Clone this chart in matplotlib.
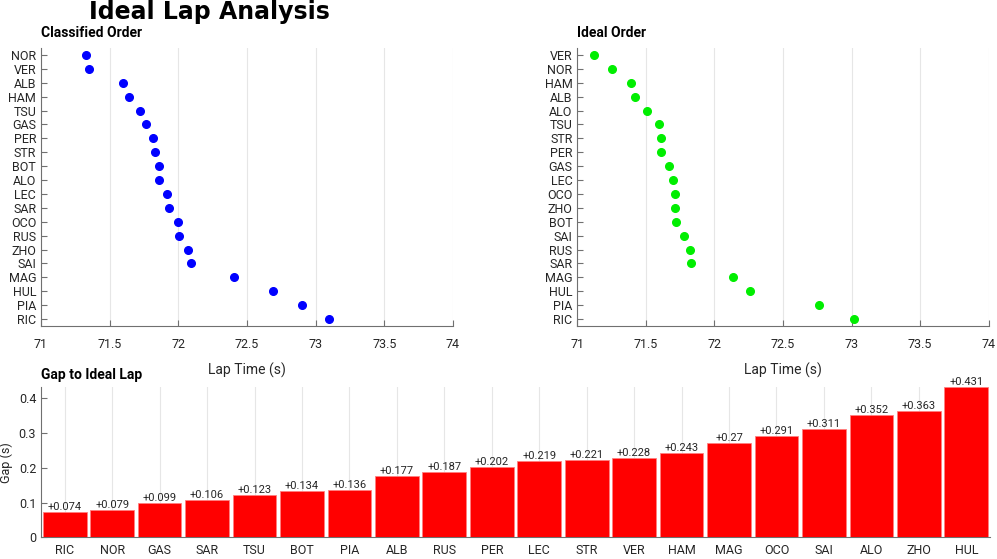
import matplotlib
matplotlib.use("Agg")
import matplotlib.pyplot as plt
import numpy as np

plt.rcParams['font.family'] = ['Roboto', 'DejaVu Sans']

# classified order (best lap, s)
classified_drivers = ["NOR", "VER", "ALB", "HAM", "TSU", "GAS", "PER", "STR", "BOT", "ALO",
                      "LEC", "SAR", "OCO", "RUS", "ZHO", "SAI", "MAG", "HUL", "PIA", "RIC"]
classified_times = [71.330, 71.352, 71.597, 71.638, 71.721, 71.765, 71.816, 71.833, 71.857, 71.862,
                    71.915, 71.934, 72.000, 72.007, 72.073, 72.092, 72.403, 72.692, 72.900, 73.095]

# ideal order (sum of best sectors, s)
ideal_drivers = ["VER", "NOR", "HAM", "ALB", "ALO", "TSU", "STR", "PER", "GAS", "LEC",
                 "OCO", "ZHO", "BOT", "SAI", "RUS", "SAR", "MAG", "HUL", "PIA", "RIC"]
ideal_times = [71.124, 71.251, 71.395, 71.420, 71.510, 71.598, 71.612, 71.614, 71.666, 71.696,
               71.709, 71.710, 71.723, 71.781, 71.820, 71.828, 72.133, 72.261, 72.764, 73.021]

# gap to ideal lap
gap_drivers = ["RIC", "NOR", "GAS", "SAR", "TSU", "BOT", "PIA", "ALB", "RUS", "PER",
               "LEC", "STR", "VER", "HAM", "MAG", "OCO", "SAI", "ALO", "ZHO", "HUL"]
gaps = [0.074, 0.079, 0.099, 0.106, 0.123, 0.134, 0.136, 0.177, 0.187, 0.202,
        0.219, 0.221, 0.228, 0.243, 0.27, 0.291, 0.311, 0.352, 0.363, 0.431]

txt = "#262626"
spine = "#707070"
W, H = 997, 559

fig = plt.figure(figsize=(W / 100, H / 100), dpi=100)


def style(ax):
    for s in ["top", "right"]:
        ax.spines[s].set_visible(False)
    for s in ["left", "bottom"]:
        ax.spines[s].set_color(spine)
        ax.spines[s].set_linewidth(0.8)
    ax.tick_params(direction="in", colors=spine, labelcolor=txt, labelsize=9, length=4)
    ax.set_axisbelow(True)


def dot_panel(rect, names, times, color, title):
    ax = fig.add_axes(rect)
    style(ax)
    y = np.arange(1, len(names) + 1)
    ax.plot(times, y, "o", color=color, markersize=5.5, zorder=3)
    ax.set_yticks(y)
    ax.set_yticklabels(names)
    ax.set_ylim(len(names) + 0.5, 0.5)
    ax.set_xlim(71, 74)
    ax.set_xticks([71, 71.5, 72, 72.5, 73, 73.5, 74])
    ax.set_xticklabels(["71", "71.5", "72", "72.5", "73", "73.5", "74"])
    ax.tick_params(axis="x", pad=9)
    ax.grid(axis="x", color="#e6e6e6", linewidth=0.8)
    ax.set_xlabel("Lap Time (s)", fontsize=10, color=txt, labelpad=8)
    ax.set_title(title, loc="left", fontsize=10, fontweight="bold", color="black", pad=8)
    return ax


dot_panel([41 / W, 1 - 326 / H, 412 / W, 278 / H], classified_drivers, classified_times,
          "#0000ff", "Classified Order")
dot_panel([577.3 / W, 1 - 326 / H, 411.4 / W, 278 / H], ideal_drivers, ideal_times,
          "#00ee00", "Ideal Order")

# gap bars
ax = fig.add_axes([41 / W, 1 - 537.3 / H, 949 / W, 149.8 / H])
style(ax)
x = np.arange(1, len(gap_drivers) + 1)
ax.bar(x, gaps, width=0.92, color="#ff0000", edgecolor="#ff8080", linewidth=0.6, zorder=3)
for xi, g in zip(x, gaps):
    ax.text(xi, g, "+" + f"{g:.3f}".rstrip("0"), ha="center", va="bottom",
            fontsize=8, color=txt, zorder=4)
ax.set_xticks(x)
ax.set_xticklabels(gap_drivers)
ax.set_xlim(0.5, len(gap_drivers) + 0.5)
ax.set_ylim(0, max(gaps))
ax.set_yticks([0, 0.1, 0.2, 0.3, 0.4])
ax.set_yticklabels(["0", "0.1", "0.2", "0.3", "0.4"])
ax.tick_params(axis="x", length=0, pad=5)
ax.grid(axis="x", color="#e6e6e6", linewidth=0.8)
ax.set_ylabel("Gap (s)", fontsize=9, color=txt)
ax.set_title("Gap to Ideal Lap", loc="left", fontsize=10, fontweight="bold", color="black", pad=6)

fig.text(209 / W, 1 - 12 / H, "Ideal Lap Analysis", ha="center", va="center",
         fontsize=17, fontweight="heavy", color="black", family=["DejaVu Sans"])

fig.savefig("out.png", dpi=100)
